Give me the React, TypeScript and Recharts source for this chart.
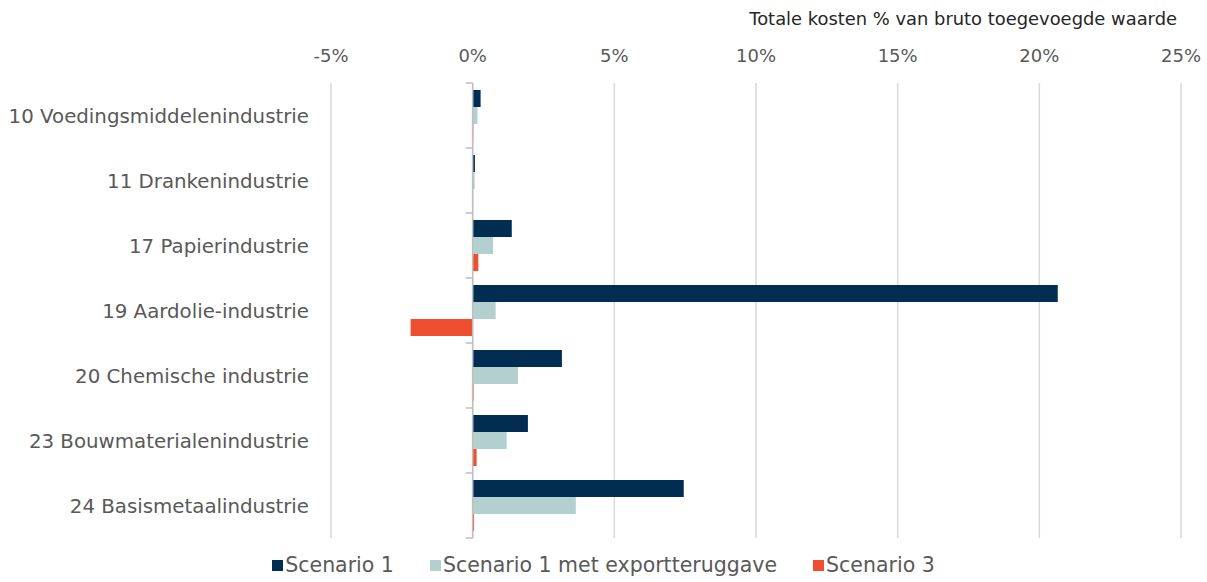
import React from "react";
import {
  BarChart,
  Bar,
  XAxis,
  YAxis,
  CartesianGrid,
  Legend,
  ReferenceLine,
} from "recharts";

const categories = [
  "10 Voedingsmiddelenindustrie",
  "11 Drankenindustrie",
  "17 Papierindustrie",
  "19 Aardolie-industrie",
  "20 Chemische industrie",
  "23 Bouwmaterialenindustrie",
  "24 Basismetaalindustrie",
];

const scenario1 = [0.28, 0.08, 1.38, 20.65, 3.15, 1.95, 7.45];
const scenario1Export = [0.17, 0.07, 0.72, 0.81, 1.6, 1.2, 3.64];
const scenario3 = [0.02, 0, 0.2, -2.19, 0.03, 0.14, 0.05];

const xTicks = [-5, 0, 5, 10, 15, 20, 25];

const series = [
  { key: "s1", name: "Scenario 1", color: "#022D52" },
  { key: "s1e", name: "Scenario 1 met exportteruggave", color: "#B4CFCF" },
  { key: "s3", name: "Scenario 3", color: "#EF4F30" },
];

const data = categories.map((name, i) => ({
  name,
  s1: scenario1[i],
  s1e: scenario1Export[i],
  s3: scenario3[i],
}));

const FONT = "'DejaVu Sans', Verdana, sans-serif";
const GREY = "#595959";

function LegendContent() {
  return (
    <div
      style={{
        display: "flex",
        justifyContent: "center",
        gap: 36,
        fontFamily: FONT,
        fontSize: 20.5,
        color: GREY,
      }}
    >
      {series.map((s) => (
        <div key={s.key} style={{ display: "flex", alignItems: "center" }}>
          <span
            style={{
              display: "inline-block",
              width: 11,
              height: 11,
              background: s.color,
              marginRight: 2,
            }}
          />
          {s.name}
        </div>
      ))}
    </div>
  );
}

export default function App() {
  return (
    <div style={{ position: "absolute", left: 0, top: 0, background: "#fff" }}>
      <BarChart
        width={1207}
        height={582}
        data={data}
        layout="vertical"
        margin={{ top: 30, right: 26, bottom: 44, left: 0 }}
        barCategoryGap={7}
        barGap={0}
      >
        <CartesianGrid horizontal={false} stroke="#D9D9D9" strokeWidth={1.5} />
        <XAxis
          type="number"
          orientation="top"
          domain={[-5, 25]}
          ticks={xTicks}
          tickFormatter={(v) => `${v}%`}
          axisLine={false}
          tickLine={false}
          tickSize={0}
          tickMargin={21}
          height={53}
          tick={{ fill: GREY, fontSize: 18, fontFamily: FONT }}
          label={{
            content: () => (
              <text
                x={1177}
                y={25}
                textAnchor="end"
                fill="#262626"
                fontSize={17.9}
                fontFamily={FONT}
              >
                Totale kosten % van bruto toegevoegde waarde
              </text>
            ),
          }}
        />
        <YAxis
          type="category"
          dataKey="name"
          width={331}
          axisLine={false}
          tickLine={false}
          tickSize={0}
          tickMargin={22}
          tick={{ fill: GREY, fontSize: 19.8, fontFamily: FONT }}
        />
        {series.map((s) => (
          <Bar
            key={s.key}
            dataKey={s.key}
            name={s.name}
            fill={s.color}
            isAnimationActive={false}
          />
        ))}
        <ReferenceLine x={0} stroke="#BFBFBF" strokeWidth={1.5} />
        {categories.map((c) => (
          <ReferenceLine
            key={c}
            segment={[
              { x: -0.25, y: c },
              { x: 0, y: c },
            ]}
            position="start"
            stroke="#BFBFBF"
            strokeWidth={1.5}
          />
        ))}
        <ReferenceLine
          segment={[
            { x: -0.25, y: categories[categories.length - 1] },
            { x: 0, y: categories[categories.length - 1] },
          ]}
          position="end"
          stroke="#BFBFBF"
          strokeWidth={1.5}
        />
        <Legend
          verticalAlign="middle"
          align="center"
          content={<LegendContent />}
          wrapperStyle={{ position: "absolute", top: 553, left: 0, width: 1207 }}
        />
      </BarChart>
    </div>
  );
}
